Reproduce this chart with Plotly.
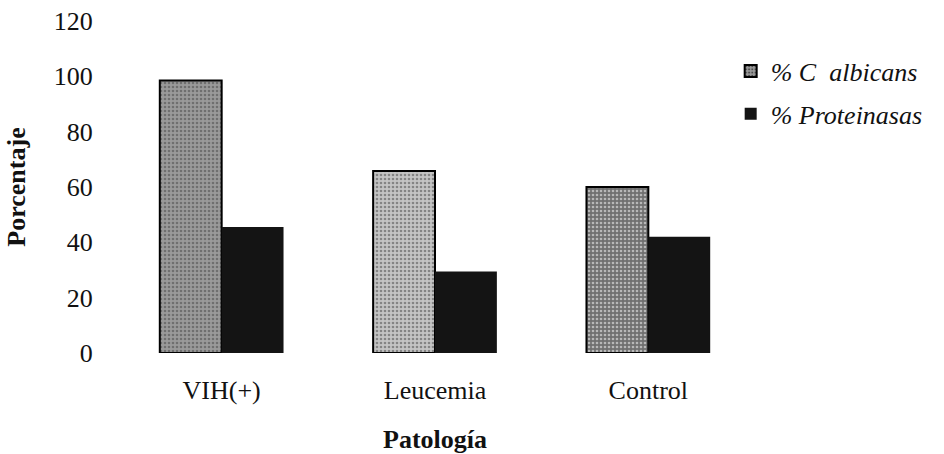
import plotly.graph_objects as go

categories = ["VIH(+)", "Leucemia", "Control"]
albicans = [98.5, 65.8, 60]
proteinasas = [45.5, 29.5, 42]
series_names = ["% C  albicans", "% Proteinasas"]
y_ticks = [0, 20, 40, 60, 80, 100, 120]

albicans_colors = ["#9a9a9a", "#c4c4c4", "#707070"]
prot_color = "#141414"

FONT = "Liberation Serif, Times New Roman, serif"

fig = go.Figure()
fig.add_trace(go.Bar(
    x=categories, y=albicans, name=series_names[0], legendgroup="a",
    marker=dict(color=albicans_colors,
                line=dict(color="black", width=2),
                pattern=dict(shape=".", fgcolor="#000000", size=4, solidity=0.35,
                             fillmode="overlay")),
))
fig.add_trace(go.Bar(
    x=categories, y=proteinasas, name=series_names[1], legendgroup="b",
    marker=dict(color=prot_color, line=dict(color="#000000", width=0)),
))

fig.update_layout(
    width=944, height=454,
    margin=dict(l=115, r=189, t=21, b=101),
    paper_bgcolor="white", plot_bgcolor="white",
    barmode="group", bargap=0.42, bargroupgap=0,
    font=dict(family=FONT, size=26, color="#111"),
    showlegend=True,
    legend=dict(x=0.962, y=0.92, xanchor="left", yanchor="top",
                font=dict(family=FONT, size=26, style="italic"),
                bgcolor="rgba(0,0,0,0)", itemwidth=30, tracegroupgap=6),
)
fig.update_xaxes(
    automargin=False,
    showgrid=False, showline=False, zeroline=False,
    ticks="outside", ticklen=14, tickcolor="rgba(0,0,0,0)",
    tickfont=dict(family=FONT, size=26),
    title=dict(text="<b>Patología</b>", font=dict(family=FONT, size=26), standoff=25),
)
fig.update_yaxes(
    automargin=False,
    range=[0, 120], tickvals=y_ticks,
    showgrid=False, showline=False, zeroline=False,
    ticks="outside", ticklen=16, tickcolor="rgba(0,0,0,0)",
    tickfont=dict(family=FONT, size=26),
    title=dict(text="<b>Porcentaje</b>", font=dict(family=FONT, size=26), standoff=20),
)

fig.write_html("out.html")
